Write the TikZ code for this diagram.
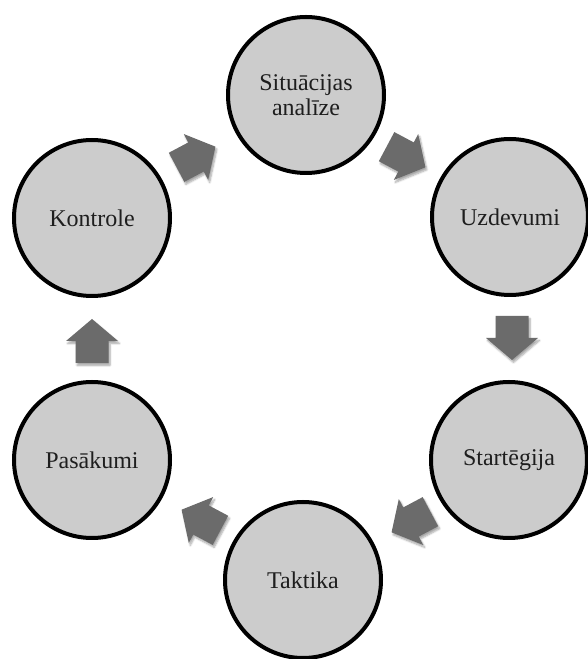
\documentclass[tikz,border=0pt]{standalone}
\usepackage{fontspec}
\setmainfont{Liberation Serif}
\usetikzlibrary{shadows.blur}
\definecolor{circfill}{HTML}{CCCCCC}
\definecolor{arrfill}{HTML}{6B6B6B}
\definecolor{txt}{HTML}{1E1E1E}
\tikzset{
  stage/.style={circle, draw=black, line width=4pt, fill=circfill, minimum size=156pt,
    inner sep=0pt, align=center, text=txt, font=\fontsize{24}{25}\selectfont},
  blockarr/.style={fill=arrfill, draw=none,
    blur shadow={shadow xshift=1.5pt, shadow yshift=-2.5pt, shadow blur steps=6, shadow opacity=35}}
}
\newcommand\blockarrow[3]{%
  \begin{scope}[shift={(#1,#2)}, rotate=#3]
    \fill[blockarr] (-22,-16.5) -- (0,-16.5) -- (0,-26) -- (22,0) -- (0,26) -- (0,16.5) -- (-22,16.5) -- cycle;
  \end{scope}}
\begin{document}
\begin{tikzpicture}[x=1pt,y=1pt]
\useasboundingbox (0,0) rectangle (588,659);
\begin{scope}
\clip (0,0) rectangle (588,659);
\node[stage] (situ) at (306,564) {Situācijas\\analīze};
\node[stage] (uzd) at (510,442) {Uzdevumi};
\node[stage] (start) at (509,199) {Startēgija};
\node[stage] (takt) at (303,79) {Taktika};
\node[stage] (pas) at (92,199) {Pasākumi};
\node[stage] (kont) at (92,441) {Kontrole};
\blockarrow{196}{502}{28}
\blockarrow{406}{502}{-28}
\blockarrow{512}{321}{-90}
\blockarrow{411}{137}{-152}
\blockarrow{201}{139}{152}
\blockarrow{92}{318}{90}
\end{scope}
\end{tikzpicture}
\end{document}
